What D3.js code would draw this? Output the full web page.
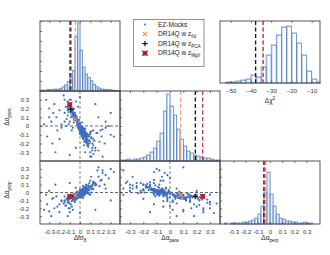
<!DOCTYPE html>
<html>
<head>
<meta charset="utf-8">
<script src="https://cdn.jsdelivr.net/npm/d3@7"></script>
<style>
body{margin:0;background:#fff}
svg{display:block;font-family:"Liberation Sans",Arial,sans-serif}
</style>
</head>
<body>
<svg id="chart" width="330" height="255"></svg>
<script>
// EZ-mocks, one entry per mock (same index in the three arrays)
var mockFs8 = [
  0.02, 0.03, 0.01,-0.01, 0.04, 0.05,-0.02, 0.00, 0.02, 0.06,
 -0.04, 0.03, 0.01,-0.03, 0.04, 0.07,-0.05, 0.00, 0.02, 0.05,
 -0.01, 0.03,-0.06, 0.01, 0.04, 0.06,-0.02, 0.02, 0.08,-0.07,
  0.03, 0.05, 0.02, 0.04, 0.01, 0.06, 0.03, 0.07, 0.05, 0.04,
  0.02, 0.00,-0.01, 0.01, 0.03, 0.05, 0.06, 0.02, 0.04, 0.03,
 -0.03,-0.02,-0.04, 0.00, 0.01,-0.05,-0.08,-0.06,-0.03, 0.00,
  0.05, 0.07, 0.09, 0.06, 0.04, 0.08, 0.03, 0.05, 0.02, 0.06,
 -0.09,-0.10,-0.07,-0.11,-0.08,-0.06,-0.12,-0.09,-0.05,-0.07,
  0.10, 0.12, 0.08, 0.11, 0.13, 0.09, 0.07, 0.10, 0.14, 0.06,
  0.01,-0.01, 0.00, 0.02, 0.03,-0.02, 0.01, 0.04, 0.00, 0.02,
 -0.30,-0.25,-0.20,-0.28,-0.15,-0.22,-0.18,-0.12,-0.26,-0.16,
  0.20, 0.25, 0.30, 0.18, 0.22, 0.15, 0.28, 0.17, 0.24, 0.33,
 -0.32,-0.27,-0.35,-0.23,-0.30, 0.05, 0.10,-0.04, 0.12, 0.08,
 -0.15,-0.12,-0.18,-0.10,-0.14, 0.16, 0.19, 0.21, 0.13, 0.11,
 -0.05,-0.08,-0.10,-0.04,-0.07,-0.12,-0.02,-0.09,-0.06,-0.11,
  0.03, 0.01, 0.02, 0.04, 0.05, 0.00,-0.01, 0.03, 0.06, 0.02,
 -0.04,-0.06,-0.05,-0.07,-0.03,-0.08,-0.02,-0.05,-0.06,-0.09,
  0.08, 0.12, 0.10, 0.06, 0.15, 0.09, 0.07, 0.11, 0.04, 0.13,
 -0.13,-0.11,-0.09,-0.15,-0.07,-0.10,-0.12,-0.08,-0.14,-0.06,
  0.09, 0.05, 0.11, 0.07, 0.03, 0.13, 0.08, 0.10, 0.06, 0.04,
  0.00,-0.02, 0.01,-0.03, 0.02,-0.01, 0.03, 0.00,-0.04, 0.01,
 -0.20, 0.25, 0.18,-0.24, 0.30,-0.33, 0.22, 0.00,-0.10, 0.15
];
var mockApara = [
 -0.07,-0.08,-0.04, 0.00,-0.10,-0.12, 0.03,-0.03,-0.05,-0.13,
  0.06,-0.06,-0.06, 0.05,-0.08,-0.15, 0.09,-0.01,-0.09,-0.09,
 -0.02,-0.11, 0.10,-0.02,-0.12,-0.10, 0.01,-0.03,-0.17, 0.13,
 -0.09,-0.11,-0.08,-0.07,-0.05,-0.14,-0.12,-0.12,-0.13,-0.10,
 -0.04,-0.05,-0.03,-0.07,-0.05,-0.07,-0.11,-0.10,-0.09,-0.13,
  0.02, 0.04, 0.08, 0.02,-0.01, 0.12, 0.16, 0.07, 0.07,-0.06,
 -0.06,-0.09,-0.16,-0.08,-0.04,-0.12,-0.14,-0.16,-0.12,-0.17,
  0.17, 0.21, 0.15, 0.24, 0.12, 0.14, 0.22, 0.19, 0.11, 0.18,
 -0.18,-0.20,-0.11,-0.14,-0.22,-0.20,-0.18,-0.09,-0.17,-0.19,
 -0.08,-0.04,-0.07,-0.11,-0.03,-0.02,-0.10,-0.05,-0.09,-0.01,
  0.10, 0.25, 0.18, 0.05, 0.30,-0.05, 0.02, 0.28, 0.15, 0.35,
 -0.05,-0.02,-0.10,-0.28,-0.04,-0.25, 0.00,-0.08,-0.20,-0.12,
 -0.12,-0.20, 0.02, 0.10, 0.20,-0.30,-0.35,-0.25,-0.28,-0.22,
  0.05, 0.12,-0.02, 0.30, 0.22,-0.08,-0.18,-0.12,-0.32,-0.06,
  0.15, 0.20, 0.25, 0.28, 0.10, 0.18, 0.22, 0.30, 0.12, 0.16,
 -0.04,-0.09,-0.06,-0.06,-0.08,-0.04,-0.01,-0.07,-0.11,-0.12,
  0.10, 0.14, 0.13, 0.16, 0.08, 0.19, 0.06, 0.11, 0.20, 0.15,
 -0.20,-0.25,-0.30,-0.15,-0.28,-0.12,-0.22,-0.35,-0.18,-0.15,
  0.08, 0.02, 0.10, 0.15,-0.02, 0.05, 0.20,-0.05, 0.00, 0.04,
 -0.10,-0.03,-0.13,-0.20,-0.15,-0.05,-0.24,-0.07,-0.18,-0.22,
 -0.02, 0.06,-0.05, 0.10, 0.04, 0.07,-0.02, 0.03, 0.12, 0.00,
 -0.15, 0.05, 0.10,-0.30, 0.15, 0.30,-0.35, 0.33,-0.33, 0.25
];
var mockAperp = [
  0.01, 0.02,-0.01,-0.02, 0.03, 0.02,-0.03, 0.00,-0.02, 0.04,
 -0.04, 0.00, 0.02,-0.01, 0.01, 0.05,-0.05, 0.01, 0.03, 0.00,
 -0.01, 0.04,-0.03,-0.03, 0.05, 0.02, 0.00,-0.01, 0.06,-0.06,
 -0.01, 0.01, 0.00,-0.02, 0.00, 0.03, 0.02,-0.01, 0.04, 0.02,
 -0.03, 0.02,-0.04, 0.01,-0.02,-0.01, 0.01, 0.02,-0.03, 0.03,
 -0.02,-0.04,-0.02,-0.03, 0.03,-0.06,-0.05,-0.07, 0.01, 0.04,
  0.05, 0.03, 0.07, 0.06, 0.02, 0.04, 0.05, 0.03, 0.04, 0.07,
 -0.06,-0.08,-0.04,-0.09,-0.07,-0.02,-0.10,-0.03,-0.08,-0.05,
  0.08, 0.10, 0.09, 0.05, 0.12, 0.03, 0.06, 0.07, 0.11, 0.00,
 -0.04,-0.02, 0.03,-0.05, 0.05,-0.01,-0.01,-0.04, 0.02, 0.01,
 -0.24,-0.20,-0.15,-0.30,-0.12,-0.18,-0.10,-0.13,-0.07,-0.14,
  0.15, 0.22, 0.30, 0.20, 0.25, 0.12, 0.18, 0.28, 0.10, 0.26,
 -0.15,-0.08,-0.22,-0.05, 0.02, 0.02,-0.03, 0.06, 0.05, 0.00,
 -0.05,-0.08,-0.11,-0.20,-0.16, 0.10, 0.08, 0.16, 0.14, 0.20,
 -0.12,-0.18,-0.25,-0.09,-0.22,-0.30,-0.06,-0.15,-0.10,-0.20,
  0.00,-0.02, 0.01, 0.04,-0.02,-0.01, 0.00, 0.03, 0.01,-0.03,
 -0.03,-0.05,-0.02,-0.04,-0.06,-0.05,-0.02,-0.07,-0.03,-0.06,
  0.04, 0.08, 0.06, 0.10, 0.09, 0.12, 0.02, 0.05, 0.07, 0.13,
 -0.08,-0.12,-0.05,-0.10,-0.09,-0.14,-0.06,-0.11,-0.17,-0.08,
 -0.02, 0.06, 0.00, 0.03, 0.08, 0.04,-0.01, 0.15, 0.09, 0.00,
 -0.06,-0.07,-0.05,-0.08,-0.06,-0.04,-0.07,-0.05,-0.09,-0.06,
 -0.25, 0.05, 0.32, 0.10,-0.10,-0.03, 0.28,-0.26, 0.12,-0.22
];

// histograms of the 1000 mocks (bin counts)
var binWidth = 0.025;
var fs8BinStart = -0.4;
var fs8Counts = [2,3,2,4,5,4,6,5,8,12,18,28,40,60,160,200,120,70,50,40,30,20,14,9,6,5,4,4,3,2,2,1];
var aparaBinStart = -0.375;
var aparaCounts = [1,1,2,1,2,2,3,4,6,9,13,20,28,50,67,55,46,32,22,15,10,8,6,5,4,3,3,2,1,1];
var aperpBinStart = -0.4;
var aperpCounts = [0,1,0,1,1,1,1,2,2,3,4,6,10,18,32,52,30,18,10,6,5,3,3,2,2,1,1,2,1,1,0,0];
var chi2BinStart = -52.5, chi2BinWidth = 2.5;
var chi2Counts = [1,1,2,3,4,8,6,16,28,38,48,56,57,50,40,28,12,4,1];

// DR14Q measurements: fid, PCA, MgII
var dr14Names = ["fid", "PCA", "MgII"];
var dr14Fs8 = [-0.045, -0.09, -0.10];
var dr14Apara = [0.08, 0.19, 0.245];
var dr14Aperp = [-0.03, -0.05, -0.05];
var dr14Chi2 = [-34, -37.7, -34];
var dr14LineColors = ["#f4a27e", "#111111", "#c0394b"];

var ticks3 = [-0.3, -0.2, -0.1, 0, 0.1, 0.2, 0.3];
var chi2Ticks = [-50, -40, -30, -20, -10];

var FONT = "Liberation Sans, Arial, sans-serif";
var svg = d3.select("#chart");

// scales, one per column / row
var xFs8 = d3.scaleLinear().domain([-0.39, 0.39]).range([40, 120]).clamp(true);
var xApara = d3.scaleLinear().domain([-0.375, 0.375]).range([120, 220]).clamp(true);
var xAperp = d3.scaleLinear().domain([-0.41, 0.41]).range([220, 320]).clamp(true);
var yApara = d3.scaleLinear().domain([-0.4, 0.4]).range([161, 91]);
var yAperp = d3.scaleLinear().domain([-0.4, 0.4]).range([224, 161]);
var xChi2 = d3.scaleLinear().domain([-55.3, -5.9]).range([220, 320]).clamp(true);

function fmt(d){ return d == 0 ? "0" : String(+d.toFixed(1)); }

function tickAxis(axis, tx, ty, labelled){
  var g = svg.append("g").attr("transform", "translate(" + tx + "," + ty + ")").call(axis);
  g.select(".domain").remove();
  g.selectAll("line").attr("stroke", "#444").attr("stroke-width", 0.7);
  g.attr("font-family", FONT).attr("font-size", 6);
  g.selectAll("text").attr("fill", "#333");
  if (!labelled) g.selectAll("text").remove();
  return g;
}

function frame(x0, x1, y0, y1){
  svg.append("rect").attr("x", x0).attr("y", y0).attr("width", x1 - x0).attr("height", y1 - y0)
    .attr("fill", "none").attr("stroke", "#444").attr("stroke-width", 0.9);
}

function drawHist(counts, start, width, xs, y0, y1, top){
  var y = d3.scaleLinear().domain([0, top]).range([y1, y0]);
  var g = svg.append("g");
  counts.forEach(function(c, i){
    if (!c) return;
    var xa = xs(start + i * width), xb = xs(start + (i + 1) * width);
    if (xb - xa < 0.5) return;
    g.append("rect").attr("x", xa + 0.9).attr("y", y(c) + 0.5).attr("width", Math.max(xb - xa - 0.9, 0.3))
      .attr("height", y1 - y(c) - 0.5).attr("fill", "none").attr("stroke", "#adc9ee").attr("stroke-width", 0.8);
    g.append("rect").attr("x", xa).attr("y", y(c)).attr("width", xb - xa)
      .attr("height", y1 - y(c)).attr("fill", "none").attr("stroke", "#5a82c2").attr("stroke-width", 0.7);
  });
}

function vDash(x, y0, y1, color, width, dash){
  svg.append("line").attr("x1", x).attr("x2", x).attr("y1", y0).attr("y2", y1)
    .attr("stroke", color).attr("stroke-width", width).attr("stroke-dasharray", dash);
}
function hDash(y, x0, x1, color){
  svg.append("line").attr("x1", x0).attr("x2", x1).attr("y1", y).attr("y2", y)
    .attr("stroke", color).attr("stroke-width", 0.9).attr("stroke-dasharray", "3,2");
}

function marker(g, kind, x, y){
  var s = 2.2;
  if (kind == 0){
    g.append("path").attr("d", "M" + (x - s) + "," + (y - s) + "L" + (x + s) + "," + (y + s) + "M" + (x - s) + "," + (y + s) + "L" + (x + s) + "," + (y - s))
      .attr("stroke", "#f08a5f").attr("stroke-width", 1.1).attr("fill", "none");
  } else if (kind == 1){
    g.append("path").attr("d", "M" + (x - s - 0.5) + "," + y + "L" + (x + s + 0.5) + "," + y + "M" + x + "," + (y - s - 0.5) + "L" + x + "," + (y + s + 0.5))
      .attr("stroke", "#111").attr("stroke-width", 1.2).attr("fill", "none");
  } else {
    g.append("rect").attr("x", x - 2.4).attr("y", y - 2.4).attr("width", 4.8).attr("height", 4.8).attr("fill", "#c42a42");
    g.append("path").attr("d", "M" + (x - s - 0.6) + "," + (y - s - 0.6) + "L" + (x + s + 0.6) + "," + (y + s + 0.6) + "M" + (x - s - 0.6) + "," + (y + s + 0.6) + "L" + (x + s + 0.6) + "," + (y - s - 0.6))
      .attr("stroke", "#8e1428").attr("stroke-width", 0.9);
  }
}

function drawScatter(xv, yv, xs, ys, dx, dy, x0, x1, y0, y1){
  vDash(xs(0), y0, y1, "#777", 0.9, "3,2");
  hDash(ys(0), x0, x1, "#555");
  var g = svg.append("g");
  g.selectAll("circle").data(xv).join("circle")
    .attr("cx", function(d){ return xs(d); })
    .attr("cy", function(d, i){ return ys(yv[i]); })
    .attr("r", 1.1).attr("fill", "#3f6ebe");
  var m = svg.append("g");
  [0, 1, 2].forEach(function(k){ marker(m, k, xs(dx[k]), ys(dy[k])); });
}

// ---- histograms on the diagonal + chi2 ----
drawHist(fs8Counts, fs8BinStart, binWidth, xFs8, 21, 91, 205);
drawHist(aparaCounts, aparaBinStart, binWidth, xApara, 91, 161, 70);
drawHist(aperpCounts, aperpBinStart, binWidth, xAperp, 161, 224, 63);
drawHist(chi2Counts, chi2BinStart, chi2BinWidth, xChi2, 21, 83, 62);

var dashes = ["4,2.5", "4,2.5", "4,2.5"];
[0, 1, 2].forEach(function(k){
  vDash(xFs8(dr14Fs8[k]), 21, 91, dr14LineColors[k], 1.3, dashes[k]);
  vDash(xApara(dr14Apara[k]), 91, 161, dr14LineColors[k], 1.3, dashes[k]);
  vDash(xAperp(dr14Aperp[k]) + (k - 1) * 0.6, 161, 224, dr14LineColors[k], 1.3, dashes[k]);
  vDash(xChi2(dr14Chi2[k]), 21, 83, dr14LineColors[k], 1.3, dashes[k]);
});

// ---- scatter panels ----
drawScatter(mockFs8, mockApara, xFs8, yApara, dr14Fs8, dr14Apara, 40, 120, 91, 161);
drawScatter(mockFs8, mockAperp, xFs8, yAperp, dr14Fs8, dr14Aperp, 40, 120, 161, 224);
drawScatter(mockApara, mockAperp, xApara, yAperp, dr14Apara, dr14Aperp, 120, 220, 161, 224);

// ---- frames ----
frame(40, 120, 21, 91);
frame(40, 120, 91, 161);
frame(40, 120, 161, 224);
frame(120, 220, 91, 161);
frame(120, 220, 161, 224);
frame(220, 320, 161, 224);
frame(220, 320, 21, 83);

// ---- ticks ----
tickAxis(d3.axisTop(xFs8).tickValues(ticks3).tickSize(-2), 0, 21, false);
tickAxis(d3.axisTop(xApara).tickValues(ticks3).tickSize(-2), 0, 91, false);
tickAxis(d3.axisTop(xAperp).tickValues(ticks3).tickSize(-2), 0, 161, false);
tickAxis(d3.axisTop(xChi2).tickValues(chi2Ticks).tickSize(-2), 0, 21, false);
tickAxis(d3.axisBottom(xChi2).tickValues(chi2Ticks).tickSize(-2).tickPadding(6).tickFormat(d3.format("d")), 0, 83, true);
tickAxis(d3.axisBottom(xFs8).tickValues(ticks3).tickSize(-2).tickPadding(6).tickFormat(fmt), 0, 224, true);
tickAxis(d3.axisBottom(xApara).tickValues(ticks3).tickSize(-2).tickPadding(6).tickFormat(fmt), 0, 224, true);
tickAxis(d3.axisBottom(xAperp).tickValues(ticks3).tickSize(-2).tickPadding(6).tickFormat(fmt), 0, 224, true);
tickAxis(d3.axisLeft(yApara).tickValues(ticks3).tickSize(-2).tickPadding(11).tickFormat(fmt), 40, 0, true);
tickAxis(d3.axisLeft(yAperp).tickValues(ticks3).tickSize(-2).tickPadding(11).tickFormat(fmt), 40, 0, true);
tickAxis(d3.axisLeft(yApara).tickValues(ticks3).tickSize(-2), 120, 0, false);
tickAxis(d3.axisLeft(yAperp).tickValues(ticks3).tickSize(-2), 120, 0, false);
tickAxis(d3.axisLeft(yAperp).tickValues(ticks3).tickSize(-2), 220, 0, false);
tickAxis(d3.axisLeft(d3.scaleLinear().domain([0, 7]).range([91, 21])).ticks(7).tickSize(-2), 40, 0, false);

// ---- axis labels ----
function subLabel(x, y, main, sub, rotate, sup){
  var t = svg.append("text").attr("font-family", FONT).attr("font-size", 6.5).attr("fill", "#222")
    .attr("text-anchor", "middle");
  if (rotate) t.attr("transform", "translate(" + x + "," + y + ") rotate(-90)");
  else t.attr("x", x).attr("y", y);
  t.append("tspan").text(main);
  t.append("tspan").attr("font-size", 4.6).attr("dy", sup ? -2.6 : 1.8).text(sub);
}
subLabel(80, 240, "\u0394f\u03c3", "8");
subLabel(170, 240, "\u0394\u03b1", "para");
subLabel(270, 240, "\u0394\u03b1", "perp");
subLabel(9, 117, "\u0394\u03b1", "para", true);
subLabel(9, 190, "\u0394\u03b1", "perp", true);
subLabel(270, 103, "\u0394\u03c7", "2", false, true);

// ---- legend ----
svg.append("rect").attr("x", 133.5).attr("y", 19.5).attr("width", 70.5).attr("height", 47)
  .attr("fill", "#fff").attr("stroke", "#777").attr("stroke-width", 0.8);
svg.append("circle").attr("cx", 145).attr("cy", 24.5).attr("r", 1).attr("fill", "#3f6ebe");
var lg = svg.append("g");
svg.append("text").attr("x", 158).attr("y", 26.8).attr("font-family", FONT).attr("font-size", 6.5)
  .attr("fill", "#222").text("EZ-Mocks");
dr14Names.forEach(function(name, k){
  var ly = 34 + k * 9.6;
  marker(lg, k, 145, ly);
  var t = svg.append("text").attr("x", 158).attr("y", ly + 2.2).attr("font-family", FONT)
    .attr("font-size", 6.5).attr("fill", "#222");
  t.append("tspan").text("DR14Q w z");
  t.append("tspan").attr("font-size", 4.6).attr("dy", 1.8).text(name);
});
</script>
</body>
</html>
